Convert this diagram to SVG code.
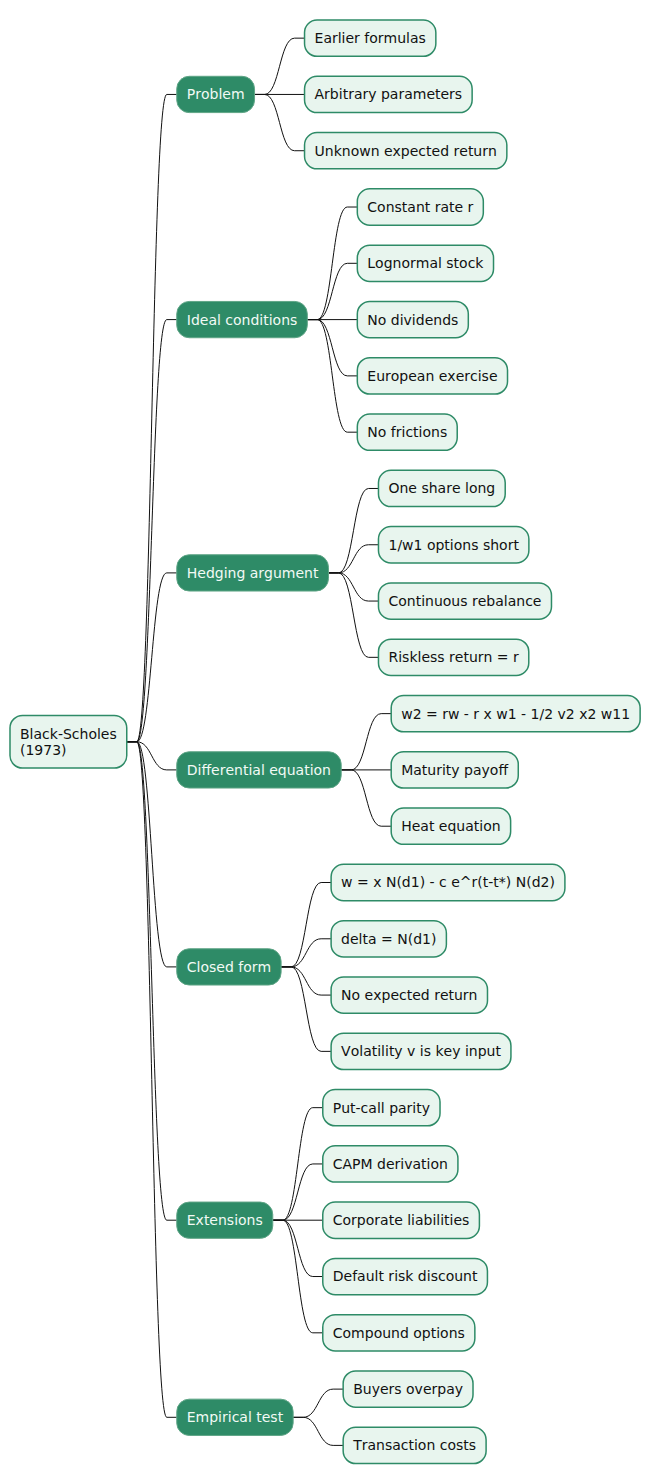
<svg xmlns="http://www.w3.org/2000/svg" width="651" height="1484" viewBox="0 0 651 1484">
<style>
text{font-family:"DejaVu Sans",sans-serif;font-size:14px;font-kerning:none}
.leaf rect{fill:#E8F5EE;stroke:#2E8B67;stroke-width:1.5}
.leaf text{fill:#111111}
.cat rect{fill:#2E8B67;stroke:#5FA586;stroke-width:1}
.cat text{fill:#F2FAF5}
.root rect{fill:#E8F5EE;stroke:#2E8B67;stroke-width:1.5}
.root text{fill:#111111}
#connectors path{fill:none;stroke:#111111;stroke-width:1}
</style>
<g id="connectors">
<!-- root to categories -->
<path d="M126.75,741.76 H136.75 C151.75,741.76 151.75,94.44 166.75,94.44 H176.75"/>
<path d="M126.75,741.76 H136.75 C151.75,741.76 151.75,319.6 166.75,319.6 H176.75"/>
<path d="M126.75,741.76 H136.75 C151.75,741.76 151.75,572.9 166.75,572.9 H176.75"/>
<path d="M126.75,741.76 H136.75 C151.75,741.76 151.75,769.9 166.75,769.9 H176.75"/>
<path d="M126.75,741.76 H136.75 C151.75,741.76 151.75,966.9 166.75,966.9 H176.75"/>
<path d="M126.75,741.76 H136.75 C151.75,741.76 151.75,1220.2 166.75,1220.2 H176.75"/>
<path d="M126.75,741.76 H136.75 C151.75,741.76 151.75,1417.3 166.75,1417.3 H176.75"/>
<!-- Problem -->
<path d="M254.54,94.44 H264.54 C279.54,94.44 279.54,38.15 294.54,38.15 H304.54"/>
<path d="M254.54,94.44 H304.54"/>
<path d="M254.54,94.44 H264.54 C279.54,94.44 279.54,150.73 294.54,150.73 H304.54"/>
<!-- Ideal conditions -->
<path d="M307.32,319.6 H317.32 C332.32,319.6 332.32,207.02 347.32,207.02 H357.32"/>
<path d="M307.32,319.6 H317.32 C332.32,319.6 332.32,263.31 347.32,263.31 H357.32"/>
<path d="M307.32,319.6 H357.32"/>
<path d="M307.32,319.6 H317.32 C332.32,319.6 332.32,375.89 347.32,375.89 H357.32"/>
<path d="M307.32,319.6 H317.32 C332.32,319.6 332.32,432.18 347.32,432.18 H357.32"/>
<!-- Hedging -->
<path d="M328.47,572.9 H338.47 C353.47,572.9 353.47,488.47 368.47,488.47 H378.47"/>
<path d="M328.47,572.9 H338.47 C353.47,572.9 353.47,544.76 368.47,544.76 H378.47"/>
<path d="M328.47,572.9 H338.47 C353.47,572.9 353.47,601.05 368.47,601.05 H378.47"/>
<path d="M328.47,572.9 H338.47 C353.47,572.9 353.47,657.34 368.47,657.34 H378.47"/>
<!-- Differential -->
<path d="M341.2,769.9 H351.2 C366.2,769.9 366.2,713.63 381.2,713.63 H391.2"/>
<path d="M341.2,769.9 H391.2"/>
<path d="M341.2,769.9 H351.2 C366.2,769.9 366.2,826.21 381.2,826.21 H391.2"/>
<!-- Closed form -->
<path d="M281.11,966.9 H291.11 C306.11,966.9 306.11,882.5 321.11,882.5 H331.11"/>
<path d="M281.11,966.9 H291.11 C306.11,966.9 306.11,938.79 321.11,938.79 H331.11"/>
<path d="M281.11,966.9 H291.11 C306.11,966.9 306.11,995.08 321.11,995.08 H331.11"/>
<path d="M281.11,966.9 H291.11 C306.11,966.9 306.11,1051.37 321.11,1051.37 H331.11"/>
<!-- Extensions -->
<path d="M272.77,1220.2 H282.77 C297.77,1220.2 297.77,1107.66 312.77,1107.66 H322.77"/>
<path d="M272.77,1220.2 H282.77 C297.77,1220.2 297.77,1163.95 312.77,1163.95 H322.77"/>
<path d="M272.77,1220.2 H322.77"/>
<path d="M272.77,1220.2 H282.77 C297.77,1220.2 297.77,1276.53 312.77,1276.53 H322.77"/>
<path d="M272.77,1220.2 H282.77 C297.77,1220.2 297.77,1332.82 312.77,1332.82 H322.77"/>
<!-- Empirical -->
<path d="M293.16,1417.3 H303.16 C318.16,1417.3 318.16,1389.11 333.16,1389.11 H343.16"/>
<path d="M293.16,1417.3 H303.16 C318.16,1417.3 318.16,1445.4 333.16,1445.4 H343.16"/>
</g>

<g id="root" class="root"><rect x="10" y="715.47" width="116.75" height="52.58" rx="12.5"/><text x="20" y="738.5">Black-Scholes</text><text x="20" y="754.8">(1973)</text></g>

<g id="cat-problem" class="cat"><rect x="176.75" y="76.29" width="77.79" height="36.29" rx="12.5"/><text x="186.75" y="99.3">Problem</text></g>
<g id="cat-ideal" class="cat"><rect x="176.75" y="301.45" width="130.57" height="36.29" rx="12.5"/><text x="186.75" y="324.5">Ideal conditions</text></g>
<g id="cat-hedging" class="cat"><rect x="176.75" y="554.75" width="151.72" height="36.29" rx="12.5"/><text x="186.75" y="577.8">Hedging argument</text></g>
<g id="cat-diff" class="cat"><rect x="176.75" y="751.75" width="164.45" height="36.29" rx="12.5"/><text x="186.75" y="774.8">Differential equation</text></g>
<g id="cat-closed" class="cat"><rect x="176.75" y="948.75" width="104.36" height="36.29" rx="12.5"/><text x="186.75" y="971.8">Closed form</text></g>
<g id="cat-ext" class="cat"><rect x="176.75" y="1202.05" width="96.02" height="36.29" rx="12.5"/><text x="186.75" y="1225.1">Extensions</text></g>
<g id="cat-emp" class="cat"><rect x="176.75" y="1399.15" width="116.41" height="36.29" rx="12.5"/><text x="186.75" y="1422.2">Empirical test</text></g>

<g id="leaf-earlier" class="leaf"><rect x="304.54" y="20" width="131.3" height="36.29" rx="12.5"/><text x="314.54" y="43">Earlier formulas</text></g>
<g id="leaf-arbitrary" class="leaf"><rect x="304.54" y="76.29" width="167.6" height="36.29" rx="12.5"/><text x="314.54" y="99.3">Arbitrary parameters</text></g>
<g id="leaf-unknown" class="leaf"><rect x="304.54" y="132.58" width="202.3" height="36.29" rx="12.5"/><text x="314.54" y="155.6">Unknown expected return</text></g>

<g id="leaf-constant" class="leaf"><rect x="357.32" y="188.87" width="126.0" height="36.29" rx="12.5"/><text x="367.32" y="211.9">Constant rate r</text></g>
<g id="leaf-lognormal" class="leaf"><rect x="357.32" y="245.16" width="136.2" height="36.29" rx="12.5"/><text x="367.32" y="268.2">Lognormal stock</text></g>
<g id="leaf-nodiv" class="leaf"><rect x="357.32" y="301.45" width="111.0" height="36.29" rx="12.5"/><text x="367.32" y="324.5">No dividends</text></g>
<g id="leaf-european" class="leaf"><rect x="357.32" y="357.74" width="150.2" height="36.29" rx="12.5"/><text x="367.32" y="380.8">European exercise</text></g>
<g id="leaf-nofric" class="leaf"><rect x="357.32" y="414.03" width="99.9" height="36.29" rx="12.5"/><text x="367.32" y="437.1">No frictions</text></g>

<g id="leaf-oneshare" class="leaf"><rect x="378.47" y="470.32" width="126.74" height="36.29" rx="12.5"/><text x="388.47" y="493.3">One share long</text></g>
<g id="leaf-options" class="leaf"><rect x="378.47" y="526.61" width="150.42" height="36.29" rx="12.5"/><text x="388.47" y="549.6">1/w1 options short</text></g>
<g id="leaf-continuous" class="leaf"><rect x="378.47" y="582.9" width="173.01" height="36.29" rx="12.5"/><text x="388.47" y="605.9">Continuous rebalance</text></g>
<g id="leaf-riskless" class="leaf"><rect x="378.47" y="639.19" width="150.31" height="36.29" rx="12.5"/><text x="388.47" y="662.2">Riskless return = r</text></g>

<g id="leaf-pde" class="leaf"><rect x="391.2" y="695.48" width="248.93" height="36.29" rx="12.5"/><text x="401.2" y="718.5">w2 = rw - r x w1 - 1/2 v2 x2 w11</text></g>
<g id="leaf-maturity" class="leaf"><rect x="391.2" y="751.77" width="127.07" height="36.29" rx="12.5"/><text x="401.2" y="774.8">Maturity payoff</text></g>
<g id="leaf-heat" class="leaf"><rect x="391.2" y="808.06" width="119.43" height="36.29" rx="12.5"/><text x="401.2" y="831.1">Heat equation</text></g>

<g id="leaf-formula" class="leaf"><rect x="331.11" y="864.35" width="233.8" height="36.29" rx="12.5"/><text x="341.11" y="887.4">w = x N(d1) - c e^r(t-t*) N(d2)</text></g>
<g id="leaf-delta" class="leaf"><rect x="331.11" y="920.64" width="115.28" height="36.29" rx="12.5"/><text x="341.11" y="943.7">delta = N(d1)</text></g>
<g id="leaf-noexp" class="leaf"><rect x="331.11" y="976.93" width="156.38" height="36.29" rx="12.5"/><text x="341.11" y="999.9">No expected return</text></g>
<g id="leaf-vol" class="leaf"><rect x="331.11" y="1033.22" width="179.83" height="36.29" rx="12.5"/><text x="341.11" y="1056.2">Volatility v is key input</text></g>

<g id="leaf-putcall" class="leaf"><rect x="322.77" y="1089.51" width="117.25" height="36.29" rx="12.5"/><text x="332.77" y="1112.5">Put-call parity</text></g>
<g id="leaf-capm" class="leaf"><rect x="322.77" y="1145.8" width="135.15" height="36.29" rx="12.5"/><text x="332.77" y="1168.8">CAPM derivation</text></g>
<g id="leaf-corporate" class="leaf"><rect x="322.77" y="1202.09" width="156.64" height="36.29" rx="12.5"/><text x="332.77" y="1225.1">Corporate liabilities</text></g>
<g id="leaf-default" class="leaf"><rect x="322.77" y="1258.38" width="164.67" height="36.29" rx="12.5"/><text x="332.77" y="1281.4">Default risk discount</text></g>
<g id="leaf-compound" class="leaf"><rect x="322.77" y="1314.67" width="152.08" height="36.29" rx="12.5"/><text x="332.77" y="1337.7">Compound options</text></g>

<g id="leaf-buyers" class="leaf"><rect x="343.16" y="1370.96" width="129.85" height="36.29" rx="12.5"/><text x="353.16" y="1394">Buyers overpay</text></g>
<g id="leaf-transaction" class="leaf"><rect x="343.16" y="1427.25" width="142.94" height="36.29" rx="12.5"/><text x="353.16" y="1450.3">Transaction costs</text></g>
</svg>
